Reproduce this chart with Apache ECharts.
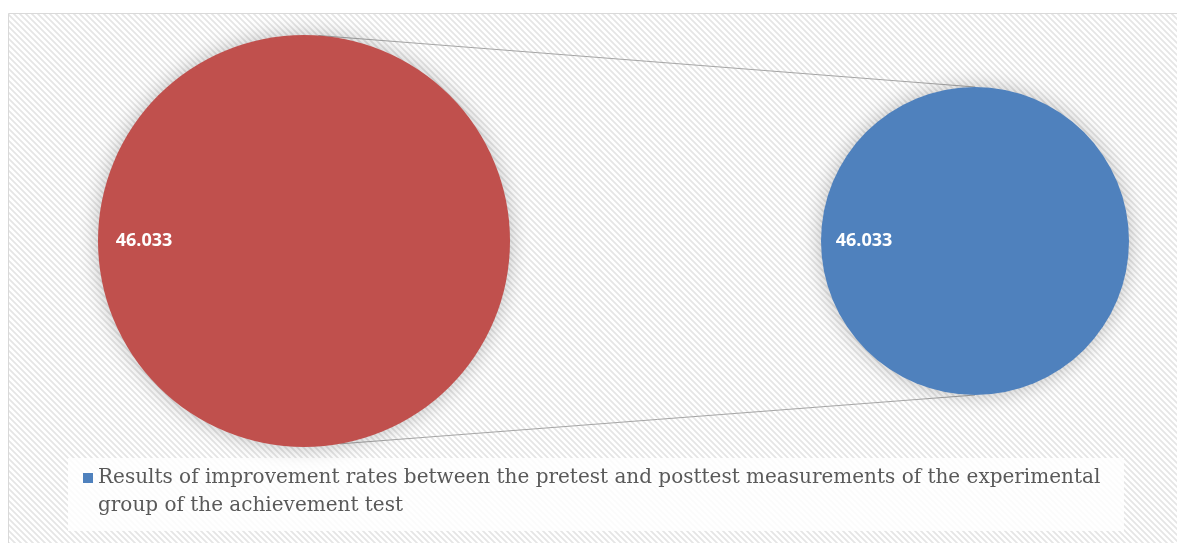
<!DOCTYPE html>
<html>
<head>
<meta charset="utf-8">
<script src="https://cdn.jsdelivr.net/npm/echarts@6/dist/echarts.min.js"></script>
<style>
  html, body { margin: 0; padding: 0; background: #fff; }
  #chart { width: 1177px; height: 543px; }
</style>
</head>
<body>
<div id="chart"></div>
<script>
  // data
  const seriesName = 'Results of improvement rates between the pretest and posttest measurements of the experimental group of the achievement test';
  const mainCategories = ['Other'];
  const mainValues = [46.033];
  const subCategories = [seriesName];
  const subValues = [46.033];

  // layout (px)
  const mainPie = { cx: 304, cy: 241, r: 206 };
  const subPie = { cx: 975, cy: 241, r: 154 };

  // striped background tile
  function stripeTile() {
    let c = document.createElement('canvas');
    c.width = 6; c.height = 6;
    let ctx = c.getContext('2d');
    ctx.fillStyle = '#ffffff';
    ctx.fillRect(0, 0, 6, 6);
    ctx.strokeStyle = '#e5e5e5';
    ctx.lineWidth = 1.7;
    ctx.beginPath();
    ctx.moveTo(-1, -1); ctx.lineTo(7, 7);
    ctx.moveTo(-1, 5); ctx.lineTo(1, 7);
    ctx.moveTo(5, -1); ctx.lineTo(7, 1);
    ctx.stroke();
    return c;
  }

  function onCircle(p, deg) {
    let a = deg * Math.PI / 180;
    return [p.cx + p.r * Math.cos(a), p.cy + p.r * Math.sin(a)];
  }

  let top1 = onCircle(mainPie, -86), top2 = onCircle(subPie, -90);
  let bot1 = onCircle(mainPie, 80), bot2 = onCircle(subPie, 90);

  let labelStyle = {
    show: true,
    position: 'inside',
    formatter: '{c}',
    color: '#fff',
    fontFamily: 'Open Sans',
    fontWeight: 'bold',
    fontSize: 18
  };

  let chart = echarts.init(document.getElementById('chart'));
  chart.setOption({
    animation: false,
    backgroundColor: '#fff',
    graphic: [
      {
        type: 'rect',
        z: 0,
        shape: { x: 8.5, y: 13.5, width: 1200, height: 600 },
        style: { fill: { image: stripeTile(), repeat: 'repeat' }, stroke: '#d9d9d9', lineWidth: 1 }
      },
      {
        type: 'line',
        z: 1,
        shape: { x1: top1[0], y1: top1[1], x2: top2[0], y2: top2[1] },
        style: { stroke: '#a6a6a6', lineWidth: 1 }
      },
      {
        type: 'line',
        z: 1,
        shape: { x1: bot1[0], y1: bot1[1], x2: bot2[0], y2: bot2[1] },
        style: { stroke: '#a6a6a6', lineWidth: 1 }
      },
      {
        // legend box
        type: 'rect',
        z: 1,
        shape: { x: 68, y: 458, width: 1056, height: 73 },
        style: { fill: 'rgba(255,255,255,0.85)' }
      }
    ],
    legend: {
      data: [seriesName],
      left: 83,
      top: 436,
      padding: 0,
      icon: 'rect',
      itemWidth: 10,
      itemHeight: 10,
      selectedMode: false,
      formatter: function (name) {
        // empty first line keeps the icon level with the first text line
        return '\n' + name.replace(' group of', '\ngroup of');
      },
      textStyle: {
        fontFamily: 'DejaVu Serif',
        fontSize: 20,
        color: '#595959',
        lineHeight: 28
      }
    },
    series: [
      {
        name: 'main',
        type: 'pie',
        center: [mainPie.cx, mainPie.cy],
        radius: mainPie.r,
        startAngle: 0,
        silent: true,
        label: labelStyle,
        labelLine: { show: false },
        labelLayout: { dx: -54 },
        itemStyle: { color: '#c0504d', shadowBlur: 20, shadowColor: 'rgba(0,0,0,0.25)' },
        data: mainCategories.map((n, i) => ({ name: n, value: mainValues[i] }))
      },
      {
        name: 'sub',
        type: 'pie',
        center: [subPie.cx, subPie.cy],
        radius: subPie.r,
        startAngle: 0,
        silent: true,
        label: labelStyle,
        labelLine: { show: false },
        labelLayout: { dx: -31 },
        itemStyle: { color: '#4f81bd', shadowBlur: 20, shadowColor: 'rgba(0,0,0,0.25)' },
        data: subCategories.map((n, i) => ({ name: n, value: subValues[i] }))
      }
    ]
  });
</script>
</body>
</html>
